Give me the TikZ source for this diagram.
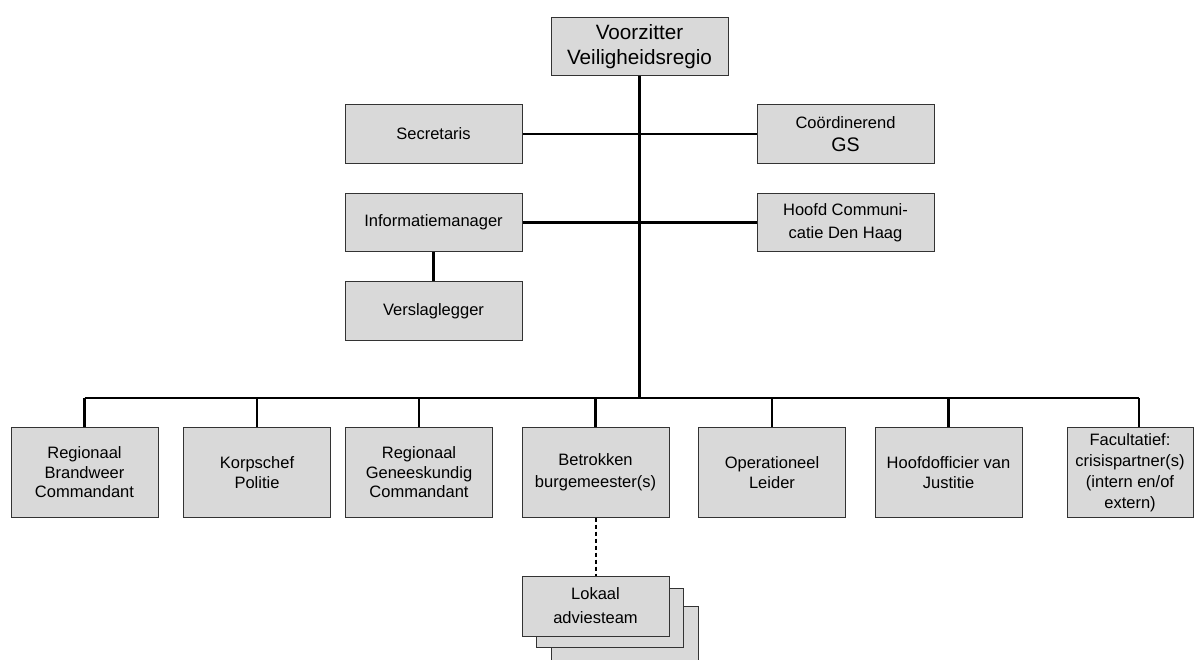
\documentclass[tikz,border=0pt]{standalone}
\usepackage{fontspec}
\setmainfont{Liberation Sans}
\begin{document}
\begin{tikzpicture}[x=1pt,y=-1pt,
  box/.style={draw=black!80, fill=black!15, line width=1pt, inner sep=0pt,
    align=center, minimum width=147pt, minimum height=89pt,
    font=\fontsize{16.5}{19.5}\selectfont},
  wbox/.style={box, minimum width=177pt, minimum height=58.5pt},
  conn/.style={line width=2.3pt, black},
  thinconn/.style={line width=1.4pt, black}]
\useasboundingbox (0,0) rectangle (1203,660);

% top
\node[wbox, font=\fontsize{20.7}{25}\selectfont] (top) at (639.5,46.5) {Voorzitter\\Veiligheidsregio};
\node[wbox] (sec) at (433.5,134) {Secretaris};
\node[wbox] (cgs) at (845.5,134) {Coördinerend\\[4pt]{\fontsize{19.6}{22}\selectfont GS}};
\node[wbox] (info) at (433.5,222.5) {Informatiemanager};
\node[wbox, font=\fontsize{16.5}{23}\selectfont] (hc) at (845.5,222.5) {Hoofd Communi-\\catie Den Haag};
\node[wbox] (vers) at (433.5,311) {Verslaglegger};

% bottom row
\node[box] (b1) at (84.5,472.5) {Regionaal\\Brandweer\\Commandant};
\node[box] (b2) at (257,472.5) {Korpschef\\Politie};
\node[box] (b3) at (419,472.5) {Regionaal\\Geneeskundig\\Commandant};
\node[box, font=\fontsize{16.5}{22}\selectfont] (b4) at (595.5,472.5) {Betrokken\\burgemeester(s)};
\node[box] (b5) at (772,472.5) {Operationeel\\Leider};
\node[box] (b6) at (948.5,472.5) {Hoofdofficier van\\Justitie};
\node[box, minimum width=126pt, font=\fontsize{16.5}{21}\selectfont] (b7) at (1130,472.5) {Facultatief:\\crisispartner(s)\\(intern en/of\\extern)};

% stacked lokaal adviesteam
\node[box, minimum height=60pt] (lok3) at (624.5,636) {};
\node[box, minimum height=59pt] (lok2) at (610,617.5) {};
\node[box, minimum height=60pt, font=\fontsize{16.5}{24}\selectfont] (lok1) at (595.5,606) {Lokaal\\adviesteam};

% connectors
\coordinate (bus) at (639.5,398);
\coordinate (busL) at (84.5,398);
\coordinate (busR) at (1139,398);
\draw[conn] (top.south) -- (bus);
\draw[conn] (sec.east) -- (cgs.west);
\draw[conn] (info.east) -- (hc.west);
\draw[conn] (info.south) -- (vers.north);
\draw[conn] (busL) -- (busR);
\draw[conn] (busL) -- (b1.north);
\draw[conn] (b2.north |- bus) -- (b2.north);
\draw[conn] (b3.north |- bus) -- (b3.north);
\draw[conn] (b4.north |- bus) -- (b4.north);
\draw[thinconn] (b5.north |- bus) -- (b5.north);
\draw[conn] (b6.north |- bus) -- (b6.north);
\draw[conn] (busR) -- (busR |- b7.north);
\draw[line width=2pt, dash pattern=on 4pt off 3pt] (b4.south) -- (lok1.north);
\end{tikzpicture}
\end{document}
